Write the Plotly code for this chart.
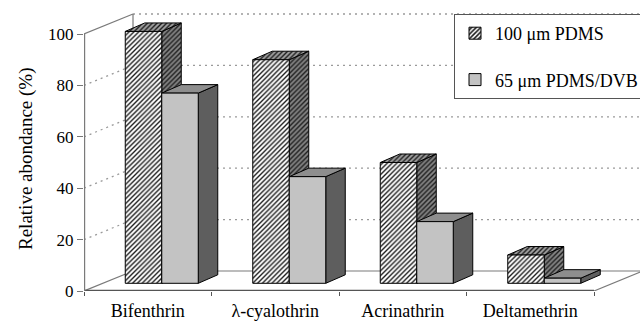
import plotly.graph_objects as go

# ---- data -------------------------------------------------------------
categories = ["Bifenthrin", "λ-cyalothrin", "Acrinathrin", "Deltamethrin"]
series_names = ["100 μm PDMS", "65 μm PDMS/DVB"]
pdms_100 = [98, 87, 47, 11]
pdms_dvb_65 = [74, 41.5, 24, 2]
y_ticks = [0, 20, 40, 60, 80, 100]
y_title = "Relative abondance (%)"

# ---- page / projection geometry ----------------------------------------
W, H = 640, 321
ML, MB = 84, 30                 # plot area starts at the front value axis
CAT_PX = 127.5                  # pixels per category on the front plane
VAL_PX = 2.57                   # pixels per percent
PLOT_W, PLOT_H = W - ML, H - MB
X_RANGE = [-0.5, -0.5 + PLOT_W / CAT_PX]
Y_RANGE = [0, PLOT_H / VAL_PX]
FONT = "'Liberation Serif', 'Times New Roman', Times, serif"


def dx(px):
    return px / CAT_PX


def dy(px):
    return px / VAL_PX


# oblique depth of the whole chart box, of the bar row offset and of a bar
WALL_DX, WALL_DY = dx(49), dy(20)
ROW_DX, ROW_DY = dx(14), dy(7.7)
BAR_DX, BAR_DY = dx(19.5), dy(8.5)
BAR_W = dx(36.5)

X0, X1 = -0.5, len(categories) - 0.5
VMAX = y_ticks[-1]

fig = go.Figure()


def line(xs, ys, color="#7a7a7a", width=1.2, dash=None):
    fig.add_trace(go.Scatter(x=xs, y=ys, mode="lines", hoverinfo="skip",
                             showlegend=False,
                             line=dict(color=color, width=width, dash=dash)))


def face(xs, ys, fill, pattern=None):
    fig.add_trace(go.Scatter(
        x=xs + [xs[0]], y=ys + [ys[0]], mode="lines", fill="toself",
        fillcolor=fill, fillpattern=pattern, hoverinfo="skip",
        showlegend=False, line=dict(color="black", width=1)))


# ---- walls and floor ----------------------------------------------------
for t in y_ticks[1:]:
    # back-wall gridline
    line([X0 + WALL_DX, X_RANGE[1] + 0.2], [t + WALL_DY, t + WALL_DY],
         color="#9a9a9a", width=1.3, dash="2px,4px")
for t in y_ticks[1:-1]:
    # side-wall gridline
    line([X0, X0 + WALL_DX], [t, t + WALL_DY],
         color="#9a9a9a", width=1.3, dash="2px,4px")
# side wall top and bottom edges, back wall edge
line([X0, X0 + WALL_DX], [VMAX, VMAX + WALL_DY])
line([X0, X0 + WALL_DX], [0, WALL_DY])
line([X0 + WALL_DX, X0 + WALL_DX], [WALL_DY, VMAX + WALL_DY])
# floor
line([X0 + WALL_DX, X1 + WALL_DX], [WALL_DY, WALL_DY])
line([X1, X1 + WALL_DX], [0, WALL_DY])
line([X0, X1], [0, 0], color="#555555", width=2.4)
# front value axis
line([X0, X0], [0, VMAX], color="#7a7a7a", width=2.4)

# ---- bars -----------------------------------------------------------------
hatch_front = dict(shape="/", size=3.4, solidity=0.4, fgcolor="#1a1a1a",
                   bgcolor="white", fillmode="replace")
hatch_top = dict(shape="/", size=3.4, solidity=0.4, fgcolor="#1a1a1a",
                 bgcolor="#a0a0a0", fillmode="replace")
hatch_side = dict(shape="/", size=3.4, solidity=0.4, fgcolor="#1a1a1a",
                  bgcolor="#858585", fillmode="replace")

styles = [
    dict(front=("white", hatch_front), top=("#a0a0a0", hatch_top),
         side=("#858585", hatch_side)),
    dict(front=("#c3c3c3", None), top=("#8e8e8e", None),
         side=("#5e5e5e", None)),
]


def box(xl, v, st):
    xr = xl + BAR_W
    b, t = ROW_DY, v + ROW_DY
    face([xr, xr + BAR_DX, xr + BAR_DX, xr],
         [b, b + BAR_DY, t + BAR_DY, t], *st["side"])
    face([xl, xr, xr + BAR_DX, xl + BAR_DX],
         [t, t, t + BAR_DY, t + BAR_DY], *st["top"])
    face([xl, xr, xr, xl], [b, b, t, t], *st["front"])


for i in range(len(categories)):
    centre = i + ROW_DX
    box(centre - BAR_W, pdms_100[i], styles[0])
    box(centre, pdms_dvb_65[i], styles[1])

# legend keys
for name, st in zip(series_names, styles):
    col, pat = st["front"]
    if pat is not None:
        pat = dict(pat, bgcolor="white", fgcolor="#1a1a1a", solidity=0.5,
                   size=4)
    fig.add_trace(go.Bar(x=[None], y=[None], name=name, legendgroup=name,
                         marker=dict(color=col, pattern=pat,
                                     line=dict(color="black", width=1))))

# ---- layout -------------------------------------------------------------
fig.update_layout(
    width=W, height=H,
    margin=dict(l=ML, r=0, t=0, b=MB, autoexpand=False),
    paper_bgcolor="white", plot_bgcolor="white",
    font=dict(family=FONT, color="black", size=18),
    showlegend=True,
    legend=dict(x=(454 - ML) / PLOT_W, y=1 - 14 / PLOT_H,
                xanchor="left", yanchor="top",
                bordercolor="#555555", borderwidth=1, bgcolor="white",
                font=dict(family=FONT, size=18), tracegroupgap=20,
                itemwidth=30),
    xaxis=dict(range=X_RANGE, showgrid=False, zeroline=False, showline=False,
               tickmode="array", tickvals=list(range(len(categories))),
               ticktext=categories, ticks="", ticklabelstandoff=7,
               tickfont=dict(family=FONT, size=18),
               minor=dict(tickmode="array",
                          tickvals=[k - 0.5 for k in range(len(categories) + 1)],
                          ticks="outside", ticklen=4, tickcolor="#555555")),
    yaxis=dict(range=Y_RANGE, showgrid=False, zeroline=False, showline=False,
               tickmode="array", tickvals=y_ticks, ticks="outside",
               ticklen=6, tickcolor="#777777",
               tickfont=dict(family=FONT, size=17)),
    annotations=[dict(text=y_title, textangle=-90, showarrow=False,
                      xref="paper", yref="paper",
                      x=(26 - ML) / PLOT_W, y=(PLOT_H - 159) / PLOT_H,
                      xanchor="center", yanchor="middle",
                      font=dict(family=FONT, size=19))],
)

fig.write_html("out.html")
